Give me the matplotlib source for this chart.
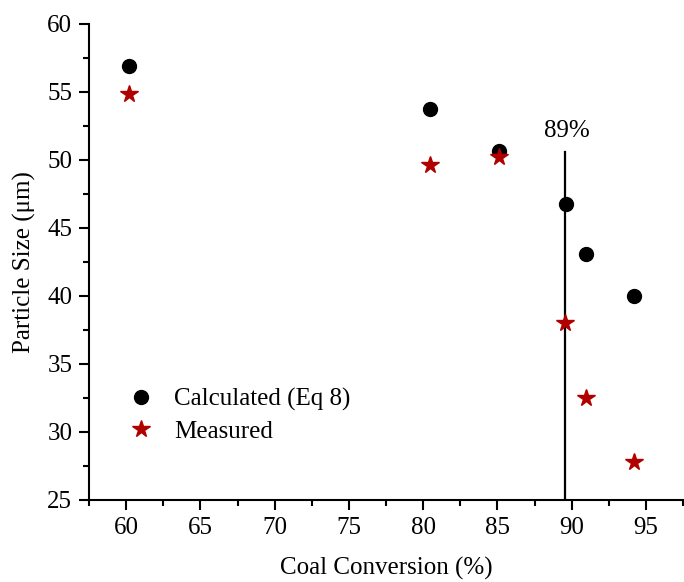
import matplotlib
matplotlib.use("Agg")
import matplotlib.pyplot as plt
from matplotlib.ticker import MultipleLocator

plt.rcParams['font.family'] = ['Liberation Serif', 'DejaVu Serif']
plt.rcParams['mathtext.fontset'] = 'stix'

calc_x = [60.2, 80.45, 85.1, 89.6, 90.95, 94.2]
calc_y = [56.93, 53.75, 50.65, 46.74, 43.12, 40.0]
meas_x = [60.2, 80.45, 85.1, 89.55, 90.95, 94.2]
meas_y = [54.88, 49.63, 50.25, 38.04, 32.52, 27.77]
line_x = 89.58
line_top = 50.6
label_txt = "89%"

fig = plt.figure(figsize=(6.84, 5.82), dpi=100)
ax = fig.add_axes([89/684, 1-500/582, (683-89)/684, (500-24)/582])

ax.plot([line_x, line_x], [25, line_top], color='black', lw=1.6, zorder=1)
ax.text(line_x + 0.1, line_top + 0.75, label_txt, ha='center', va='bottom', fontsize=18)

ax.plot(calc_x, calc_y, 'o', color='black', markersize=10, linestyle='none',
        label='Calculated (Eq 8)', zorder=3)
ax.plot(meas_x, meas_y, '*', color='#B00000', markersize=13, linestyle='none',
        label='Measured', zorder=4)

ax.set_xlim(57.5, 97.5)
ax.set_ylim(25, 60)
ax.xaxis.set_major_locator(MultipleLocator(5))
ax.xaxis.set_minor_locator(MultipleLocator(2.5))
ax.yaxis.set_major_locator(MultipleLocator(5))
ax.yaxis.set_minor_locator(MultipleLocator(2.5))
for s in ['top', 'right']:
    ax.spines[s].set_visible(False)
for s in ['left', 'bottom']:
    ax.spines[s].set_linewidth(1.5)
ax.tick_params(which='major', length=7, width=1.5, labelsize=18, direction='out', pad=5)
ax.tick_params(which='minor', length=4, width=1.5, direction='out')

ax.set_xlabel('Coal Conversion (%)', fontsize=18, labelpad=13)
ax.set_ylabel('Particle Size (μm)', fontsize=18, labelpad=8)

leg = ax.legend(loc='upper left', bbox_to_anchor=(0.045, 0.256), frameon=False,
                fontsize=18, handletextpad=0.75, labelspacing=0.36, borderaxespad=0,
                handlelength=1.2)

fig.savefig('out.png', dpi=100)
